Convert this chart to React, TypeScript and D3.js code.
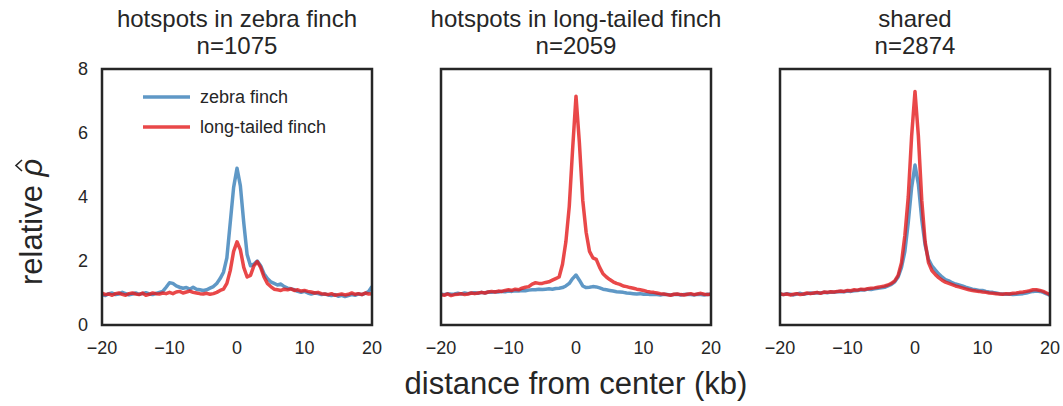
import React from 'react';
import * as d3 from 'd3';

// distance from hotspot center, kb
const kb = d3.range(81).map(i => -20 + i * 0.5);

const titles = ['hotspots in zebra finch', 'hotspots in long-tailed finch', 'shared'];
const counts = [1075, 2059, 2874];
const seriesNames = ['zebra finch', 'long-tailed finch'];
const yTicks = [0, 2, 4, 6, 8];
const xTicks = [-20, -10, 0, 10, 20];

// hotspots in zebra finch
const zfZebra = [
  0.95, 0.92, 0.98, 1.0, 0.95, 0.97, 1.02, 0.98, 0.94, 0.97,
  1.0, 0.96, 0.98, 1.01, 0.97, 0.95, 0.99, 1.02, 1.05, 1.18,
  1.32, 1.3, 1.22, 1.18, 1.15, 1.17, 1.12, 1.18, 1.12, 1.1,
  1.08, 1.1, 1.15, 1.2, 1.3, 1.45, 1.65, 2.1, 3.2, 4.3,
  4.9, 4.35, 3.2, 2.2, 1.85, 1.9, 2.0, 1.85, 1.6, 1.45,
  1.35, 1.3, 1.25, 1.28, 1.2, 1.15, 1.13, 1.1, 1.05, 1.02,
  1.05, 1.0, 0.97, 1.0, 0.98, 0.95, 0.97, 0.94, 0.92, 0.95,
  0.9, 0.93, 0.89, 0.92, 0.95, 0.93, 0.97, 0.95, 0.99, 1.05,
  1.2,
];
const zfLong = [
  1.0, 0.95, 0.97, 0.93, 0.98, 1.0, 0.96, 0.93, 0.98, 1.0,
  0.97, 0.95, 1.0, 0.93, 0.96, 1.0, 0.98, 0.97, 1.0, 0.98,
  1.02, 0.98, 1.03, 1.05, 1.0, 1.03, 1.06, 1.02, 1.0, 0.98,
  0.97, 0.99, 0.96, 0.98, 1.02, 1.08, 1.12, 1.3, 1.7, 2.3,
  2.6, 2.35, 1.8, 1.5, 1.55, 1.85, 1.98, 1.8, 1.5, 1.3,
  1.2, 1.12, 1.1, 1.08, 1.12, 1.1, 1.13, 1.08, 1.1, 1.06,
  1.08, 1.05, 1.03, 1.0, 1.02, 0.98, 0.97, 0.95, 0.98, 0.93,
  0.95, 0.97, 0.94, 0.96, 1.0, 0.96, 0.98, 0.95, 1.0, 0.97,
  0.98,
];

// hotspots in long-tailed finch
const ltZebra = [
  0.97, 0.95, 0.98, 0.96, 0.97, 0.99, 0.97, 1.0, 0.98, 1.0,
  1.01, 0.99, 1.02, 1.0, 1.03, 1.02, 1.04, 1.03, 1.05, 1.04,
  1.06, 1.05, 1.07, 1.06, 1.08, 1.07, 1.09, 1.1, 1.1, 1.12,
  1.11, 1.12, 1.13, 1.12, 1.14, 1.15, 1.17, 1.22, 1.3, 1.45,
  1.56, 1.4, 1.22, 1.17, 1.18, 1.2, 1.19, 1.16, 1.12, 1.1,
  1.08, 1.06, 1.04, 1.03, 1.02, 1.0, 0.99, 0.98, 0.97, 0.98,
  0.96, 0.97, 0.95, 0.96, 0.95, 0.94, 0.96, 0.95, 0.94, 0.95,
  0.96, 0.94, 0.95, 0.96, 0.95, 0.94, 0.96, 0.95, 0.94, 0.96,
  0.95,
];
const ltLong = [
  0.95, 0.93, 0.97, 0.92, 0.95, 0.96, 0.98, 0.95, 0.97, 1.0,
  0.98, 1.0, 1.02, 1.0, 1.03, 1.05, 1.03, 1.06, 1.05, 1.08,
  1.1, 1.08, 1.12, 1.1, 1.15, 1.18, 1.2, 1.28, 1.32, 1.3,
  1.3, 1.33, 1.35, 1.4, 1.45, 1.5, 1.9, 2.6, 3.7, 5.5,
  7.15, 5.7, 3.9, 2.9, 2.3, 2.1, 2.05, 1.8, 1.6, 1.5,
  1.42, 1.35, 1.3, 1.27, 1.22, 1.2, 1.17, 1.15, 1.12, 1.1,
  1.08, 1.05, 1.03, 1.02, 1.0, 0.98, 0.97, 0.95, 0.93, 0.96,
  0.97, 0.95, 0.94, 0.96, 0.98, 0.95, 0.97, 0.99, 0.96, 0.95,
  0.97,
];

// shared hotspots
const shZebra = [
  0.97, 0.95, 0.98, 0.96, 0.94, 0.97, 0.99, 0.96, 0.98, 1.0,
  0.99, 1.01, 1.0, 1.02, 1.01, 1.03, 1.02, 1.04, 1.05, 1.04,
  1.06, 1.05, 1.07, 1.08, 1.1, 1.09, 1.12, 1.11, 1.13, 1.15,
  1.16, 1.18, 1.22, 1.27, 1.35, 1.5, 1.8, 2.3, 3.2, 4.3,
  5.0, 4.4, 3.3, 2.5, 2.05, 1.85, 1.72, 1.6, 1.5, 1.42,
  1.38, 1.32, 1.28, 1.25, 1.22, 1.18, 1.15, 1.12, 1.1, 1.08,
  1.08, 1.05, 1.03, 1.02, 1.0, 0.98, 0.97, 0.96, 0.97, 0.95,
  0.96, 0.97, 0.98, 1.0, 1.03, 1.05, 1.06, 1.05, 1.02, 0.97,
  0.93,
];
const shLong = [
  0.98, 0.95, 0.97, 0.94, 0.96, 0.98, 0.95, 0.97, 1.0, 0.98,
  1.0, 1.02, 0.99, 1.03, 1.02, 1.04, 1.03, 1.05, 1.06, 1.05,
  1.08, 1.07, 1.1, 1.09, 1.12, 1.11, 1.13, 1.15, 1.16, 1.18,
  1.2, 1.22, 1.25, 1.3, 1.38, 1.55, 1.95, 2.8, 4.0, 5.9,
  7.3, 5.9, 3.9, 2.6, 1.95, 1.7, 1.58, 1.48, 1.4, 1.34,
  1.3, 1.26, 1.22, 1.19, 1.16, 1.13, 1.1, 1.08, 1.06, 1.05,
  1.03, 1.02, 1.0, 0.99, 0.98, 0.97, 0.96, 0.98, 0.97, 0.99,
  1.0, 1.02, 1.03, 1.05, 1.07, 1.1, 1.1, 1.08, 1.05, 1.0,
  0.95,
];

const panelData = [
  [zfZebra, zfLong],
  [ltZebra, ltLong],
  [shZebra, shLong],
];

const colors = ['#377eb8', '#e41a1c'];
const ink = '#262626';
const font = '"Liberation Sans", Arial, sans-serif';

const W = 1063;
const H = 406;
const panelLeft = [102, 441, 780];
const panelW = 270;
const top = 69;
const panelH = 256;

const x = d3.scaleLinear().domain([-20, 20]).range([0, panelW]);
const y = d3.scaleLinear().domain([0, 8]).range([panelH, 0]);
const line = d3.line<number>()
  .x((_, i) => x(kb[i]))
  .y(d => y(d));

export default function App() {
  return (
    <svg width={W} height={H} style={{ position: 'absolute', left: 0, top: 0, background: '#fff' }}
      fontFamily={font}>
      {panelLeft.map((left, p) => (
        <g key={p} transform={`translate(${left},${top})`}>
          <text x={panelW / 2} y={-42} textAnchor="middle" fontSize={24} fill={ink}>{titles[p]}</text>
          <text x={panelW / 2} y={-15} textAnchor="middle" fontSize={24} fill={ink}>n={counts[p]}</text>
          <clipPath id={`clip${p}`}>
            <rect width={panelW} height={panelH} />
          </clipPath>
          <g clipPath={`url(#clip${p})`}>
            {panelData[p].map((s, k) => (
              <path key={k} d={line(s) ?? ''} fill="none" stroke={colors[k]}
                strokeOpacity={0.8} strokeWidth={3.5} strokeLinejoin="round" />
            ))}
          </g>
          <rect width={panelW} height={panelH} fill="none" stroke={ink} strokeWidth={2.5} />
          {xTicks.map(t => (
            <text key={t} x={x(t)} y={panelH + 29} textAnchor="middle" fontSize={18} fill={ink}>
              {t < 0 ? `\u2212${Math.abs(t)}` : t}
            </text>
          ))}
          {p === 0 && yTicks.map(t => (
            <text key={t} x={-14} y={y(t)} dy="0.36em" textAnchor="end" fontSize={18} fill={ink}>{t}</text>
          ))}
          {p === 0 && seriesNames.map((name, k) => (
            <g key={name} transform={`translate(0,${28 + k * 30})`}>
              <line x1={41} x2={88} stroke={colors[k]} strokeOpacity={0.8} strokeWidth={3.5} />
              <text x={98} dy="0.36em" fontSize={18} fill={ink}>{name}</text>
            </g>
          ))}
        </g>
      ))}
      <text x={576} y={394} textAnchor="middle" fontSize={31} fill={ink}>distance from center (kb)</text>
      <g transform="translate(42,222) rotate(-90)">
        <text x={-63} fontSize={31} fill={ink}>
          relative <tspan fontStyle="italic">{'\u03C1'}</tspan>
        </text>
        <polyline points="51,-20 56.5,-26 62,-20" fill="none" stroke={ink} strokeWidth={1.6} />
      </g>
    </svg>
  );
}
